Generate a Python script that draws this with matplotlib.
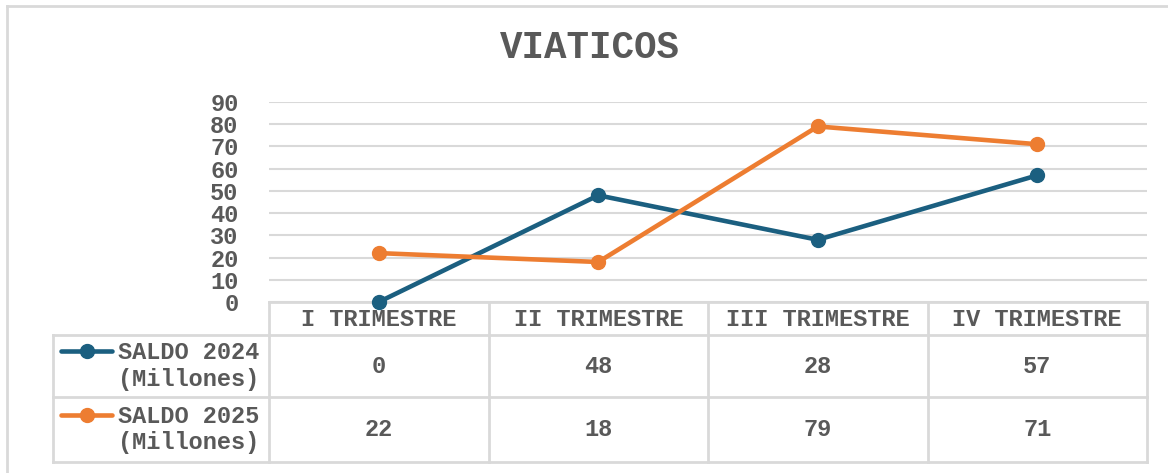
import matplotlib.pyplot as plt
from matplotlib.lines import Line2D

quarters = ["I TRIMESTRE", "II TRIMESTRE", "III TRIMESTRE", "IV TRIMESTRE"]
series_names = ["SALDO 2024\n(Millones)", "SALDO 2025\n(Millones)"]
saldo_2024 = [0, 48, 28, 57]
saldo_2025 = [22, 18, 79, 71]
yticks = [0, 10, 20, 30, 40, 50, 60, 70, 80, 90]

W, H = 1168, 473
txt = "#595959"
grid = "#D9D9D9"
colors = ["#1B5F80", "#ED7D31"]
font = "Liberation Mono"

fig = plt.figure(figsize=(W / 100, H / 100), dpi=100)

# plot area (pixel positions)
px_l, px_r, px_top, px_bot = 269, 1147, 102, 302
ax = fig.add_axes([px_l / W, 1 - px_bot / H, (px_r - px_l) / W, (px_bot - px_top) / H])
ax.set_xlim(-0.5, 3.5)
ax.set_ylim(0, 90)
ax.set_yticks(yticks)
ax.set_xticks([])
for s in ax.spines.values():
    s.set_visible(False)
ax.grid(axis="y", color=grid, linewidth=1.5)
ax.set_axisbelow(True)
ax.tick_params(axis="y", length=0, pad=22, labelcolor=txt, labelsize=17)
for lab in ax.get_yticklabels():
    lab.set_fontfamily(font)
    lab.set_fontweight("bold")

x = range(len(quarters))
for vals, c in zip([saldo_2024, saldo_2025], colors):
    ax.plot(x, vals, color=c, linewidth=3.3, marker="o", markersize=10,
            solid_capstyle="round", clip_on=False, zorder=3)

# overlay in pixel coordinates for border, title and data table
ov = fig.add_axes([0, 0, 1, 1], zorder=-1)
ov.set_xlim(0, W)
ov.set_ylim(H, 0)
ov.axis("off")
ov.patch.set_alpha(0)

ov.plot([7, 7], [6, H], color=grid, lw=2)
ov.plot([7, W], [6, 6], color=grid, lw=2)

ov.text(590, 48, "VIATICOS", ha="center", va="center", fontsize=27,
        fontfamily=font, fontweight="bold", color=txt)

# table geometry
row_y = [302, 335, 397, 462]
leg_l = 53
col_w = (px_r - px_l) / len(quarters)
col_x = [px_l + i * col_w for i in range(len(quarters) + 1)]

tlw = 2
ov.plot([px_l, px_r], [row_y[0], row_y[0]], color=grid, lw=tlw)
for y in row_y[1:]:
    ov.plot([leg_l, px_r], [y, y], color=grid, lw=tlw)
for cx in col_x:
    ov.plot([cx, cx], [row_y[0], row_y[-1]], color=grid, lw=tlw)
ov.plot([leg_l, leg_l], [row_y[1], row_y[-1]], color=grid, lw=tlw)

tkw = dict(fontsize=17, fontfamily=font, fontweight="bold", color=txt)
for i, q in enumerate(quarters):
    ov.text((col_x[i] + col_x[i + 1]) / 2, (row_y[0] + row_y[1]) / 2 + 1, q,
            ha="center", va="center", **tkw)

for r, (name, vals, c) in enumerate(zip(series_names, [saldo_2024, saldo_2025], colors)):
    y0, y1 = row_y[r + 1], row_y[r + 2]
    yc = (y0 + y1) / 2
    for i, v in enumerate(vals):
        ov.text((col_x[i] + col_x[i + 1]) / 2, yc, str(v),
                ha="center", va="center", **tkw)
    ov.text(259, yc, name, ha="right", va="center", linespacing=1.2, **tkw)
    ly = yc - 15
    ov.add_line(Line2D([61, 112], [ly, ly], color=c, lw=3.3, solid_capstyle="round"))
    ov.add_line(Line2D([87], [ly], color=c, marker="o", markersize=10))

fig.savefig("out.png", dpi=100)
